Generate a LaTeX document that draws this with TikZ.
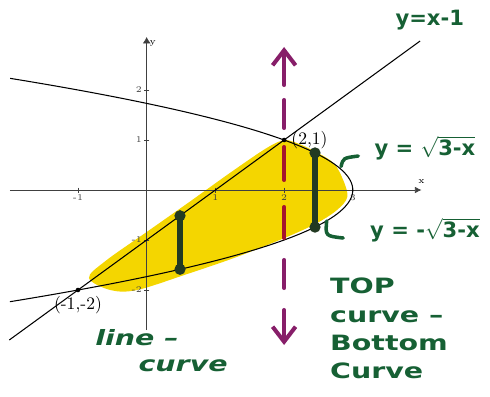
\documentclass[tikz,border=0pt]{standalone}
\usepackage{fontspec}
\newfontfamily\handfont{DejaVu Sans}
\newfontfamily\widehand{DejaVu Sans}[FakeStretch=1.35]
\usetikzlibrary{arrows.meta}
\definecolor{hlyellow}{RGB}{244,214,0}
\definecolor{inkgreen}{RGB}{22,96,52}
\definecolor{bargreen}{RGB}{34,58,34}
\definecolor{markpurple}{RGB}{135,30,105}
\definecolor{markred}{RGB}{165,20,45}

\begin{document}
\begin{tikzpicture}[x=1.374cm, y=1cm,
    crv/.style={black, line width=0.6pt},
    axisline/.style={black!75, line width=0.4pt},
    barline/.style={bargreen, line width=3.4pt, line cap=round},
    vdashline/.style={line width=2.3pt, line cap=round},
    handlabel/.style={inkgreen, font=\handfont\bfseries\large, inner sep=1pt},
    ticklabel/.style={font=\tiny, inner sep=1pt}]
  \useasboundingbox (-2.135,-4.12) rectangle (4.997,3.8);

  % highlighted region
  \fill[hlyellow] plot[smooth cycle, tension=0.55] coordinates {
    (-0.84,-1.76) (-0.6,-1.42) (0,-0.84) (0.6,-0.26) (1.2,0.33)
    (1.7,0.8) (1.95,0.98) (2.1,0.98) (2.38,0.82) (2.71,0.55)
    (2.86,0.2) (2.92,-0.14) (2.77,-0.4) (2.48,-0.66) (2.04,-0.94)
    (1.31,-1.34) (0.59,-1.68) (-0.14,-2.0) (-0.53,-2.0)};

  % axes
  \draw[axisline, -{Latex[length=1.3mm, width=1.3mm]}] (-1.99,0) -- (4.0,0);
  \draw[axisline, -{Latex[length=1.3mm, width=1.6mm]}] (0,-2.8) -- (0,3.06);
  \node[ticklabel] (xlab) at (4.0,0.16) {x};
  \node[ticklabel] (ylab) at (0.09,2.93) {y};
  \foreach \x in {-1,1,2,3}
    \draw[axisline] (\x,0.05) -- (\x,-0.05) node[ticklabel, below] {\x};
  \foreach \y in {-2,-1,1,2}
    \draw[axisline] (0.04,\y) -- (-0.04,\y) node[ticklabel, left] {\y};

  % curves
  \draw[crv] plot[domain=-2.234:2.234, samples=80, smooth] ({3-\x*\x},\x);
  \draw[crv] (-2,-3) -- (3.98,2.98);

  % points of intersection
  \coordinate (pa) at (2,1);
  \coordinate (pb) at (-1,-2);
  \fill (pa) circle (1.3pt);
  \fill (pb) circle (1.3pt);
  \node (palab) at (2.37,1.0) {(2,1)};
  \node (pblab) at (-1.0,-2.3) {(-1,-2)};

  % vertical strips
  \coordinate (la) at (0.485,-0.515);
  \coordinate (lb) at (0.485,-1.586);
  \coordinate (ra) at (2.45,0.742);
  \coordinate (rb) at (2.45,-0.742);
  \draw[barline] (la) -- (lb);
  \draw[barline] (ra) -- (rb);
  \foreach \p in {la,lb,ra,rb}
    \fill[bargreen] (\p) circle (3.2pt);

  % dashed line x = 2
  \foreach \a/\b/\c in {1.8/1.24/markpurple, 0.86/0.2/markred,
                        -0.34/-0.96/markred, -1.4/-1.96/markpurple}
    \draw[vdashline, \c] (2,\a) -- (2,\b);
  \draw[vdashline, markpurple, -{Straight Barb[length=3mm, width=4.6mm]}] (2,2.1) -- (2,2.86);
  \draw[vdashline, markpurple, -{Straight Barb[length=3mm, width=4.6mm]}] (2,-2.4) -- (2,-3.1);

  % labels
  \node[handlabel] (linelab) at (4.12,3.4) {y=x-1};
  \node[handlabel] (toplab) at (4.05,0.84) {y = $\sqrt{\mbox{3-x}}$};
  \node[handlabel] (botlab) at (4.05,-0.8) {y = -$\sqrt{\mbox{3-x}}$};
  \draw[inkgreen, line width=2pt, line cap=round] (2.83,0.47) .. controls (2.86,0.64) .. (3.08,0.68);
  \draw[inkgreen, line width=2pt, line cap=round] (2.62,-0.62) .. controls (2.6,-0.92) .. (2.86,-0.96);
  \node[handlabel, font=\widehand\bfseries\itshape\large] (difa) at (-0.14,-2.96) {line –};
  \node[handlabel, font=\widehand\bfseries\itshape\large] (difb) at (0.53,-3.52) {curve};
  \node[handlabel, anchor=north west, align=left, font=\widehand\bfseries\large\linespread{1.15}\selectfont]
    (diflab) at (2.64,-1.72) {TOP\\curve –\\Bottom\\Curve};
\end{tikzpicture}
\end{document}
